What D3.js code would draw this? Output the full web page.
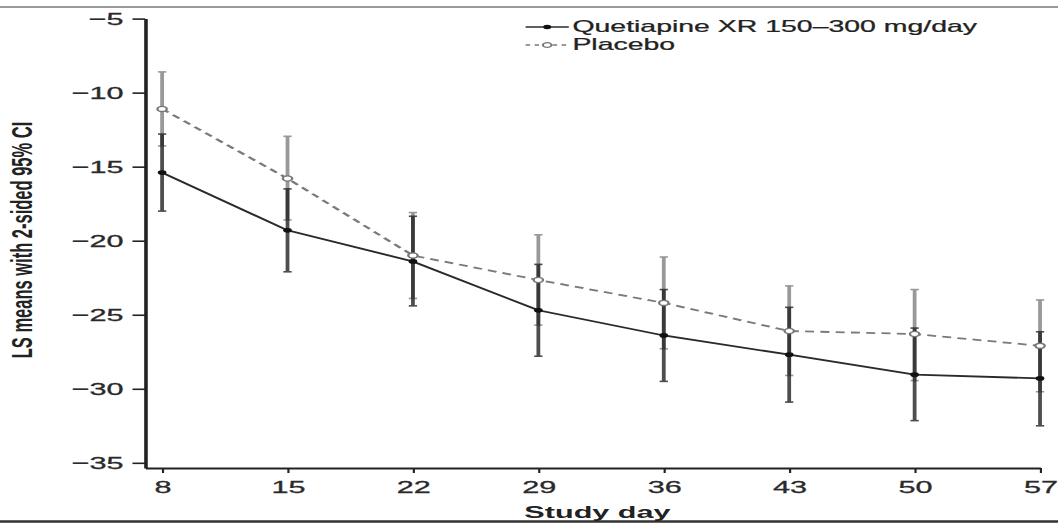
<!DOCTYPE html>
<html>
<head>
<meta charset="utf-8">
<script src="https://cdn.jsdelivr.net/npm/d3@7"></script>
<style>
  body { margin: 0; background: #fff; }
  svg { display: block; font-family: "Liberation Sans", Arial, Helvetica, sans-serif; }
</style>
</head>
<body>
<script>
var days = [8, 15, 22, 29, 36, 43, 50, 57];
var yTicks = [-35, -30, -25, -20, -15, -10, -5];

// Quetiapine XR 150-300 mg/day: LS mean and 95% CI
var quetMean = [-15.4, -19.3, -21.4, -24.7, -26.4, -27.7, -29.05, -29.3];
var quetLo   = [-18.0, -22.1, -24.4, -27.8, -29.5, -30.9, -32.15, -32.5];
var quetHi   = [-12.8, -16.5, -18.35, -21.6, -23.3, -24.5, -25.9, -26.15];

// Placebo
var placMean = [-11.1, -15.8, -21.0, -22.65, -24.2, -26.1, -26.3, -27.1];
var placLo   = [-13.6, -18.6, -23.9, -25.7, -27.3, -29.1, -29.45, -30.2];
var placHi   = [-8.6, -12.95, -18.1, -19.6, -21.1, -23.05, -23.3, -24.0];

var seriesNames = ["Quetiapine XR 150\u2013300 mg/day", "Placebo"];

var W = 1058, H = 525;
var sx = 1.8;   // the source picture is stretched sideways

var svg = d3.select("body").append("svg")
    .attr("width", W)
    .attr("height", H);

// frame lines top and bottom
svg.append("line")
  .attr("x1", 0).attr("x2", W).attr("y1", 7).attr("y2", 7)
  .style("stroke", "#9a9a9a").style("stroke-width", 2);
svg.append("line")
  .attr("x1", 0).attr("x2", W).attr("y1", 521.5).attr("y2", 521.5)
  .style("stroke", "#333").style("stroke-width", 2.5);

var g = svg.append("g").attr("transform", "scale(" + sx + ",1)");

var x = d3.scaleLinear().domain([7.05, 57]).range([80.6, 577.8]);
var y = d3.scaleLinear().domain([-35.35, -5]).range([468, 18.6]);

//****************************** Axes *****************************************
var yAxis = g.append("g")
  .attr("transform", "translate(80.6,0)")
  .call(d3.axisLeft(y).tickValues(yTicks).tickSize(7).tickSizeOuter(0).tickPadding(5)
        .tickFormat(function(d){ return d3.format("")(d).replace("-", "\u2212"); }));
yAxis.select(".domain").style("stroke", "#222").style("stroke-width", 2);
yAxis.selectAll(".tick line").style("stroke", "#222").style("stroke-width", 1.6);
yAxis.selectAll(".tick text")
  .style("font-size", "17px").style("fill", "#2a2a2a")
  .style("stroke", "#2a2a2a").style("stroke-width", 0.3)
  .attr("font-family", null);

var xAxis = g.append("g")
  .attr("transform", "translate(0,468)")
  .call(d3.axisBottom(x).tickValues(days).tickSize(5).tickSizeOuter(0).tickPadding(8));
xAxis.select(".domain").style("stroke", "#222").style("stroke-width", 2);
xAxis.selectAll(".tick line").style("stroke", "#222").style("stroke-width", 1.2);
xAxis.selectAll(".tick text")
  .style("font-size", "17px").style("fill", "#2a2a2a")
  .style("stroke", "#2a2a2a").style("stroke-width", 0.3)
  .attr("font-family", null);

g.append("text")
  .attr("x", x(32.3)).attr("y", 518)
  .attr("text-anchor", "middle")
  .style("font-size", "17px").style("font-weight", "bold").style("fill", "#222")
  .text("Study day");

g.append("text")
  .attr("transform", "translate(17.8," + 240 + ") rotate(-90)")
  .attr("text-anchor", "middle")
  .style("font-size", "16.5px").style("font-weight", "bold").style("fill", "#222")
  .text("LS means with 2-sided 95% CI");

//****************************** Error bars ***********************************
function errorBars(lo, hi, color, op) {
  var eb = g.append("g").style("opacity", op);
  eb.selectAll("line.v")
    .data(days).enter().append("line")
      .attr("x1", function(d){ return x(d); })
      .attr("x2", function(d){ return x(d); })
      .attr("y1", function(d,i){ return y(lo[i]); })
      .attr("y2", function(d,i){ return y(hi[i]); })
      .style("stroke", color).style("stroke-width", 2.1);
  [lo, hi].forEach(function(arr){
    eb.selectAll(null)
      .data(days).enter().append("line")
        .attr("x1", function(d){ return x(d) - 2.3; })
        .attr("x2", function(d){ return x(d) + 2.3; })
        .attr("y1", function(d,i){ return y(arr[i]); })
        .attr("y2", function(d,i){ return y(arr[i]); })
        .style("stroke", color).style("stroke-width", 1.6);
  });
}
errorBars(placLo, placHi, "#6e6e6e", 0.7);
errorBars(quetLo, quetHi, "#222", 0.8);

//****************************** Lines ****************************************
var line = d3.line()
  .x(function(d){ return x(d[0]); })
  .y(function(d){ return y(d[1]); });

g.append("path")
  .datum(days.map(function(d,i){ return [d, placMean[i]]; }))
  .attr("d", line)
  .style("fill", "none").style("stroke", "#7a7a7a")
  .style("stroke-width", 1.8).style("stroke-dasharray", "5,3.5");

g.append("path")
  .datum(days.map(function(d,i){ return [d, quetMean[i]]; }))
  .attr("d", line)
  .style("fill", "none").style("stroke", "#2a2a2a").style("stroke-width", 1.8);

//****************************** Markers **************************************
g.selectAll("circle.plac")
  .data(days).enter().append("circle")
    .attr("cx", function(d){ return x(d); })
    .attr("cy", function(d,i){ return y(placMean[i]); })
    .attr("r", 2.6)
    .style("fill", "#fff").style("stroke", "#777").style("stroke-width", 1.3);

g.selectAll("circle.quet")
  .data(days).enter().append("circle")
    .attr("cx", function(d){ return x(d); })
    .attr("cy", function(d,i){ return y(quetMean[i]); })
    .attr("r", 2.4)
    .style("fill", "#111");

//****************************** Legend ***************************************
var legY = [27, 45];
var leg = g.append("g");
leg.append("line")
  .attr("x1", 292).attr("x2", 316).attr("y1", legY[0]).attr("y2", legY[0])
  .style("stroke", "#2a2a2a").style("stroke-width", 1.6);
leg.append("circle").attr("cx", 304).attr("cy", legY[0]).attr("r", 2.2).style("fill", "#111");
leg.append("line")
  .attr("x1", 292).attr("x2", 316).attr("y1", legY[1]).attr("y2", legY[1])
  .style("stroke", "#7a7a7a").style("stroke-width", 1.4).style("stroke-dasharray", "2.5,2.5");
leg.append("circle").attr("cx", 304).attr("cy", legY[1]).attr("r", 2.4)
  .style("fill", "#fff").style("stroke", "#777").style("stroke-width", 1.2);
leg.selectAll("text")
  .data(seriesNames).enter().append("text")
    .attr("x", 318)
    .attr("y", function(d,i){ return legY[i] + 5.5; })
    .style("font-size", "15.8px").style("fill", "#222")
    .style("stroke", "#222").style("stroke-width", 0.25)
    .text(function(d){ return d; });
</script>
</body>
</html>
